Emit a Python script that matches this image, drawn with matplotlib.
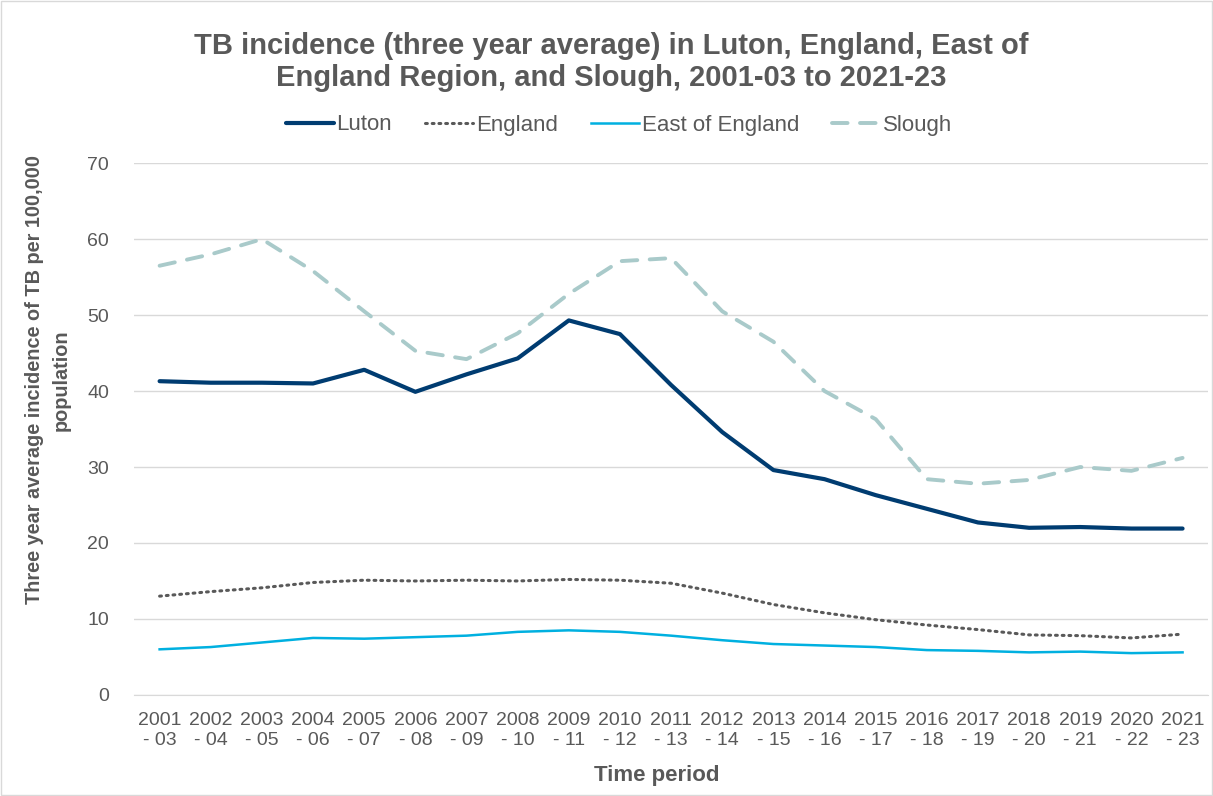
import matplotlib
matplotlib.use("Agg")
import matplotlib.pyplot as plt

plt.rcParams['font.family'] = ['Liberation Sans', 'DejaVu Sans']

# three year rolling periods
periods = [f"{y}\n- {str(y + 2)[-2:]}" for y in range(2001, 2022)]

luton = [41.3, 41.1, 41.1, 41.0, 42.8, 39.9, 42.2, 44.3, 49.3, 47.5, 40.8,
         34.6, 29.6, 28.4, 26.3, 24.5, 22.7, 22.0, 22.1, 21.9, 21.9]
england = [13.0, 13.6, 14.1, 14.8, 15.1, 15.0, 15.1, 15.0, 15.2, 15.1, 14.7,
           13.4, 11.9, 10.8, 9.9, 9.2, 8.6, 7.9, 7.8, 7.5, 8.0]
east_of_england = [6.0, 6.3, 6.9, 7.5, 7.4, 7.6, 7.8, 8.3, 8.5, 8.3, 7.8,
                   7.2, 6.7, 6.5, 6.3, 5.9, 5.8, 5.6, 5.7, 5.5, 5.6]
slough = [56.5, 58.0, 60.0, 55.8, 50.5, 45.3, 44.2, 47.6, 52.8, 57.1, 57.5,
          50.5, 46.5, 40.0, 36.3, 28.4, 27.8, 28.3, 30.0, 29.5, 31.2]

text_grey = '#595959'

fig = plt.figure(figsize=(12.13, 7.96), dpi=100)
ax = fig.add_axes([0.1105, 0.127, 0.8855, 0.668])

x = range(len(periods))
ax.plot(x, luton, color='#003C71', lw=3.0, label='Luton', solid_capstyle='round')
ax.plot(x, england, color='#595959', lw=2.2, ls=(0, (0.6, 1.6)),
        dash_capstyle='round', label='England')
ax.plot(x, east_of_england, color='#00B0E0', lw=1.8, label='East of England')
ax.plot(x, slough, color='#A9CACA', lw=2.8, ls=(0, (4, 3.2)),
        dash_capstyle='round', label='Slough')

ax.set_xlim(-0.5, len(periods) - 0.5)
ax.set_ylim(0, 70)
ax.set_yticks(range(0, 71, 10))
ax.set_xticks(list(x))
ax.set_xticklabels(periods, linespacing=1.3)
ax.grid(axis='y', color='#D9D9D9', lw=1.0)
ax.set_axisbelow(True)
for side in ['top', 'right', 'left']:
    ax.spines[side].set_visible(False)
ax.spines['bottom'].set_color('#D9D9D9')
ax.tick_params(axis='both', length=0, labelsize=14, colors=text_grey)
ax.tick_params(axis='y', pad=18)
ax.tick_params(axis='x', pad=12)

# axis titles
fig.text(657 / 1213, 1 - 776 / 796, 'Time period', ha='center', va='center',
         fontsize=16, fontweight='bold', color=text_grey)
fig.text(48 / 1213, 1 - 380 / 796,
         'Three year average incidence of TB per 100,000\npopulation',
         rotation=90, ha='center', va='center', fontsize=14.3, fontweight='bold',
         color=text_grey, linespacing=1.55)

fig.text(611 / 1213, 1 - 62 / 796, 'TB incidence (three year average) in Luton, England, East of\n'
         'England Region, and Slough, 2001-03 to 2021-23',
         ha='center', va='center', fontsize=21, fontweight='bold',
         color=text_grey, linespacing=1.2)

fig.legend(loc='center', bbox_to_anchor=(619 / 1213, 1 - 125 / 796), ncol=4,
           frameon=False, fontsize=16, handlelength=2.15, handletextpad=0.12,
           columnspacing=1.5, labelcolor=text_grey, borderpad=0)

# thin border around the chart
fig.patches.append(plt.Rectangle((0.001, 0.001), 0.998, 0.998, transform=fig.transFigure,
                                 fill=False, edgecolor='#D9D9D9', lw=1))

fig.savefig('out.png', dpi=100)
